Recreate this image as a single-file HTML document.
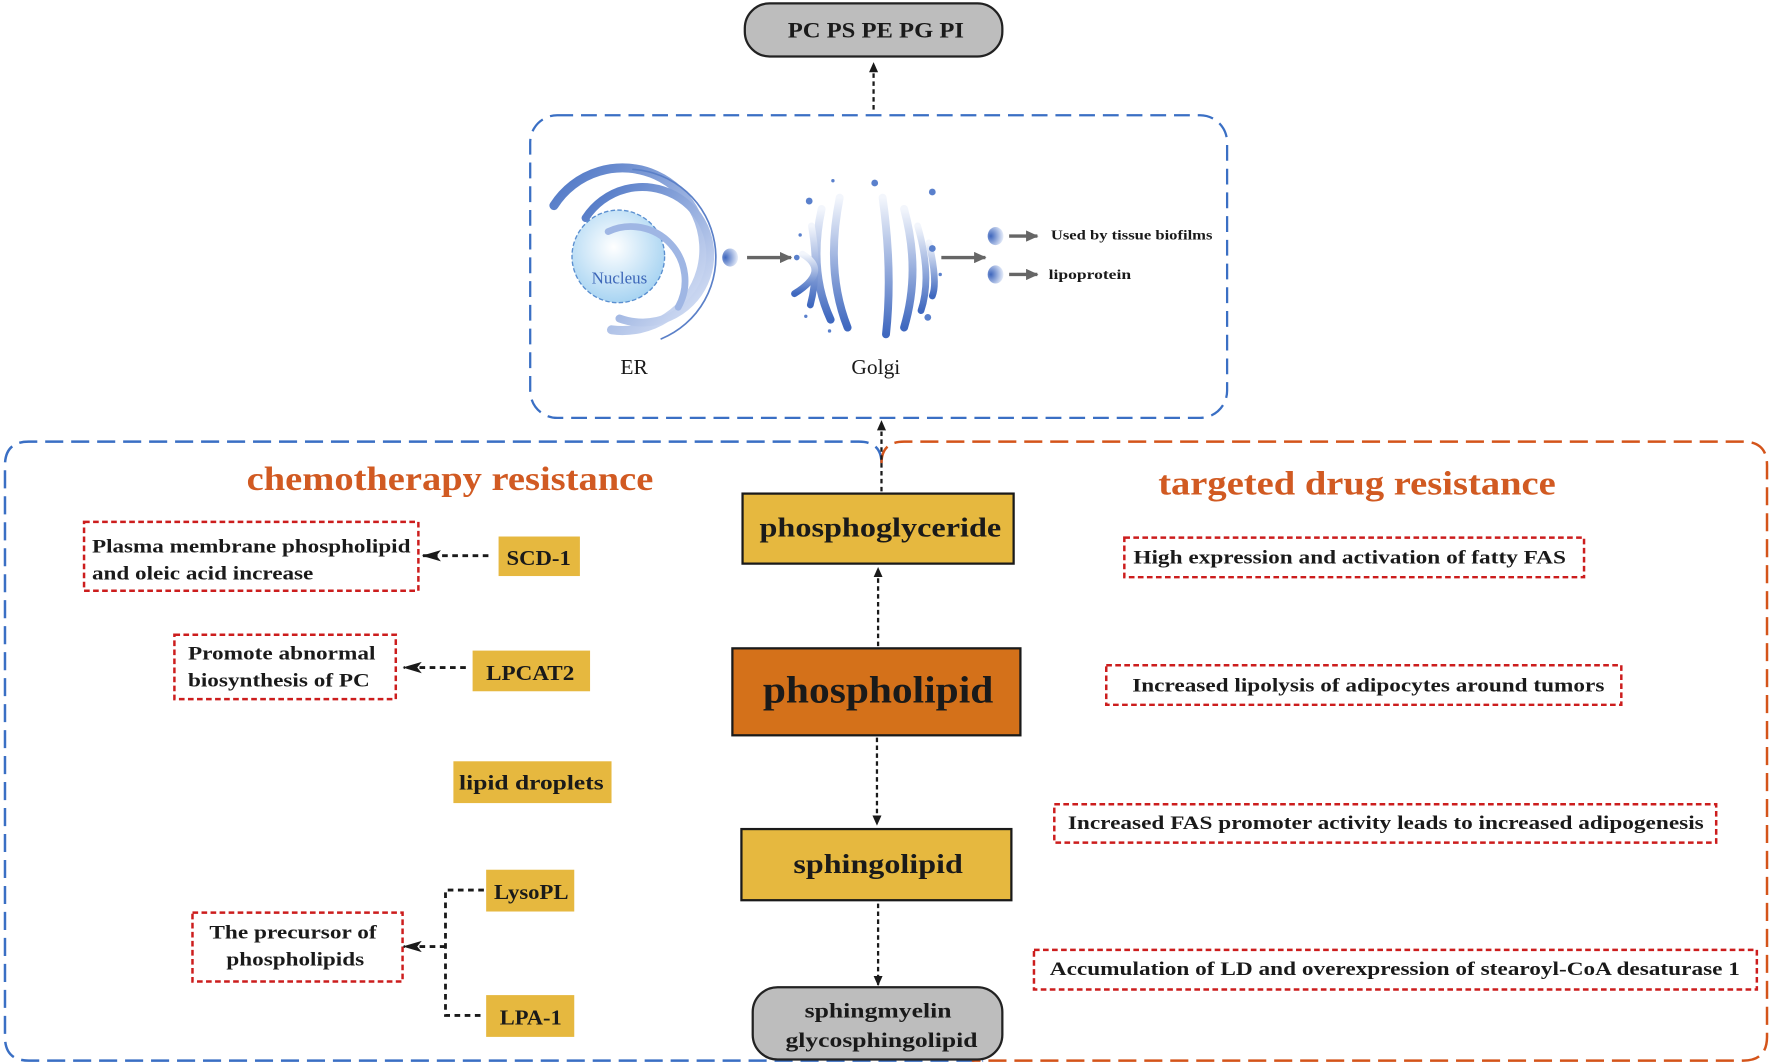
<!DOCTYPE html>
<html><head><meta charset="utf-8"><style>
html,body{margin:0;padding:0;background:#fff;}
svg{display:block;}
text{font-family:"Liberation Serif",serif;font-weight:bold;fill:#1a1a1a;}
</style></head><body>
<svg width="1772" height="1064" viewBox="0 0 1568 942" xmlns="http://www.w3.org/2000/svg">
<defs>
<marker id="ah" markerWidth="10" markerHeight="10" refX="8" refY="5" orient="auto" markerUnits="userSpaceOnUse"><path d="M0,1 L9,5 L0,9 z" fill="#1a1a1a"/></marker>
<marker id="ah2" markerWidth="18" markerHeight="12" refX="16" refY="6" orient="auto" markerUnits="userSpaceOnUse"><path d="M0,1 L17,6 L0,11 L4,6 z" fill="#1a1a1a"/></marker>
<marker id="ga" markerWidth="12" markerHeight="10" refX="10" refY="5" orient="auto" markerUnits="userSpaceOnUse"><path d="M0,0 L11,5 L0,10 z" fill="#666"/></marker>
<radialGradient id="nuc" cx="0.45" cy="0.4" r="0.6"><stop offset="0" stop-color="#ffffff"/><stop offset="1" stop-color="#a8d4f2"/></radialGradient>
<linearGradient id="bl" x1="0" y1="0" x2="1" y2="1"><stop offset="0" stop-color="#4a73c4"/><stop offset="1" stop-color="#dfe7f8"/></linearGradient>
<linearGradient id="gv" x1="0" y1="0" x2="0" y2="1"><stop offset="0" stop-color="#f3f6fc"/><stop offset="1" stop-color="#3f68bf"/></linearGradient>
<radialGradient id="ves" cx="0.2" cy="0.5" r="0.8"><stop offset="0" stop-color="#3e66bd"/><stop offset="1" stop-color="#e8eefa"/></radialGradient>
</defs>

<rect x="659" y="3" width="228" height="47" rx="22" fill="#bdbdbd" stroke="#222" stroke-width="2"/>
<text x="697" y="33" font-size="20" textLength="156" lengthAdjust="spacingAndGlyphs">PC PS PE PG PI</text>
<line x1="773" y1="97" x2="773" y2="56" stroke="#1a1a1a" stroke-width="2" stroke-dasharray="4,3" marker-end="url(#ah)"/>

<rect x="469" y="102" width="617" height="268" rx="24" fill="none" stroke="#3a6fc4" stroke-width="2" stroke-dasharray="14,7"/>
<!-- ER -->
<circle cx="547" cy="227" r="41" fill="url(#nuc)" stroke="#5a8fd0" stroke-width="1.2" stroke-dasharray="4,2"/>
<text x="548" y="251" font-size="15" text-anchor="middle" style="font-weight:normal;fill:#3c66b8">Nucleus</text>
<g fill="none" stroke-linecap="round">
<path d="M490,182 A72,72 0 1 1 541,292" stroke="url(#bl)" stroke-width="8"/>
<path d="M518,193 A60,60 0 1 1 548,282" stroke="url(#bl)" stroke-width="7"/>
<path d="M538,205 A48,48 0 0 1 600,272" stroke="#9fb6e4" stroke-width="6"/>
<path d="M560,150 A78,78 0 0 1 585,300" stroke="#5b80c8" stroke-width="1.5"/>
</g>
<text x="561" y="331" font-size="19" text-anchor="middle" style="font-weight:normal">ER</text>
<ellipse cx="646" cy="228" rx="7" ry="8" fill="url(#ves)"/>
<line x1="661" y1="228" x2="700" y2="228" stroke="#666" stroke-width="3" marker-end="url(#ga)"/>
<!-- Golgi -->
<g fill="none" stroke-linecap="round">
<path d="M743,175 Q730,240 750,290" stroke="url(#gv)" stroke-width="7"/>
<path d="M727,185 Q715,240 735,283" stroke="url(#gv)" stroke-width="7"/>
<path d="M718,200 Q725,240 717,270" stroke="url(#gv)" stroke-width="6"/>
<path d="M710,225 Q735,240 703,260" stroke="url(#gv)" stroke-width="6"/>
<path d="M781,175 Q790,240 784,296" stroke="url(#gv)" stroke-width="7"/>
<path d="M800,185 Q815,240 800,290" stroke="url(#gv)" stroke-width="7"/>
<path d="M812,200 Q825,245 815,275" stroke="url(#gv)" stroke-width="6"/>
<path d="M822,215 Q830,250 825,262" stroke="url(#gv)" stroke-width="6"/>
</g>
<g fill="#5a80cc"><circle cx="774" cy="162" r="3"/><circle cx="825" cy="170" r="3"/><circle cx="716" cy="178" r="3"/><circle cx="737" cy="160" r="1.5"/><circle cx="825" cy="220" r="3"/><circle cx="821" cy="281" r="3"/><circle cx="705" cy="228" r="2.5"/><circle cx="708" cy="208" r="1.5"/><circle cx="734" cy="293" r="1.5"/><circle cx="832" cy="243" r="1.5"/><circle cx="713" cy="280" r="1.5"/></g>
<text x="775" y="331" font-size="19" text-anchor="middle" style="font-weight:normal">Golgi</text>
<line x1="833" y1="228" x2="872" y2="228" stroke="#666" stroke-width="3" marker-end="url(#ga)"/>
<ellipse cx="881" cy="209" rx="7" ry="8" fill="url(#ves)"/>
<ellipse cx="881" cy="243" rx="7" ry="8" fill="url(#ves)"/>
<line x1="893" y1="209" x2="918" y2="209" stroke="#666" stroke-width="3" marker-end="url(#ga)"/>
<line x1="893" y1="243" x2="918" y2="243" stroke="#666" stroke-width="3" marker-end="url(#ga)"/>
<text x="930" y="212" font-size="12.5" textLength="143" lengthAdjust="spacingAndGlyphs">Used by tissue biofilms</text>
<text x="928" y="247" font-size="12.5" textLength="73" lengthAdjust="spacingAndGlyphs">lipoprotein</text>

<path d="M780,410 Q780,391 760,391 L25,391 Q4,391 4,412 L4,918 Q4,939 25,939 L870,939" fill="none" stroke="#3a6fc4" stroke-width="2.2" stroke-dasharray="16,7"/>
<path d="M780,410 Q780,391 800,391 L1543,391 Q1564,391 1564,412 L1564,918 Q1564,939 1543,939 L860,939" fill="none" stroke="#d4541a" stroke-width="2.2" stroke-dasharray="16,7"/>

<text x="218" y="434" font-size="30" textLength="360" lengthAdjust="spacingAndGlyphs" style="fill:#d15a22">chemotherapy resistance</text>
<text x="1025" y="438" font-size="30" textLength="352" lengthAdjust="spacingAndGlyphs" style="fill:#d15a22">targeted drug resistance</text>

<line x1="780" y1="435" x2="780" y2="373" stroke="#1a1a1a" stroke-width="2" stroke-dasharray="4,3" marker-end="url(#ah)"/>
<rect x="657" y="437" width="240" height="62" fill="#e6b83f" stroke="#1a1a1a" stroke-width="2"/>
<text x="672" y="475" font-size="24" textLength="214" lengthAdjust="spacingAndGlyphs">phosphoglyceride</text>
<line x1="777" y1="572" x2="777" y2="503" stroke="#1a1a1a" stroke-width="2" stroke-dasharray="4,3" marker-end="url(#ah)"/>
<rect x="648" y="574" width="255" height="77" fill="#d4711a" stroke="#1a1a1a" stroke-width="2"/>
<text x="675" y="622" font-size="34" textLength="204" lengthAdjust="spacingAndGlyphs">phospholipid</text>
<line x1="776" y1="653" x2="776" y2="730" stroke="#1a1a1a" stroke-width="2" stroke-dasharray="4,3" marker-end="url(#ah)"/>
<rect x="656" y="734" width="239" height="63" fill="#e6b83f" stroke="#1a1a1a" stroke-width="2"/>
<text x="702" y="773" font-size="24" textLength="150" lengthAdjust="spacingAndGlyphs">sphingolipid</text>
<line x1="777" y1="800" x2="777" y2="872" stroke="#1a1a1a" stroke-width="2" stroke-dasharray="4,3" marker-end="url(#ah)"/>
<rect x="666" y="874" width="221" height="64" rx="22" fill="#bdbdbd" stroke="#222" stroke-width="2"/>
<text x="712" y="901" font-size="19" textLength="130" lengthAdjust="spacingAndGlyphs">sphingmyelin</text>
<text x="695" y="927" font-size="19" textLength="170" lengthAdjust="spacingAndGlyphs">glycosphingolipid</text>

<g fill="none" stroke="#cc1d1d" stroke-width="2.2" stroke-dasharray="5,3">
<rect x="74" y="462" width="296" height="61"/>
<rect x="154" y="562" width="196" height="57"/>
<rect x="170" y="808" width="186" height="61"/>
<rect x="995" y="476" width="407" height="35"/>
<rect x="979" y="589" width="456" height="35"/>
<rect x="933" y="712" width="586" height="34"/>
<rect x="915" y="841" width="640" height="35"/>
</g>
<text x="81" y="489" font-size="17" textLength="282" lengthAdjust="spacingAndGlyphs">Plasma membrane phospholipid</text>
<text x="81" y="513" font-size="17" textLength="196" lengthAdjust="spacingAndGlyphs">and oleic acid increase</text>
<text x="166" y="584" font-size="17" textLength="166" lengthAdjust="spacingAndGlyphs">Promote abnormal</text>
<text x="166" y="608" font-size="17" textLength="161" lengthAdjust="spacingAndGlyphs">biosynthesis of PC</text>
<text x="185" y="831" font-size="17" textLength="148" lengthAdjust="spacingAndGlyphs">The precursor of</text>
<text x="200" y="855" font-size="17" textLength="122" lengthAdjust="spacingAndGlyphs">phospholipids</text>

<g fill="#e6b83f">
<rect x="441" y="475" width="72" height="35"/>
<rect x="418" y="576" width="104" height="36"/>
<rect x="401" y="674" width="140" height="37"/>
<rect x="430" y="770" width="78" height="37"/>
<rect x="430" y="881" width="78" height="37"/>
</g>
<text x="448" y="500" font-size="19" textLength="57" lengthAdjust="spacingAndGlyphs">SCD-1</text>
<text x="430" y="602" font-size="19" textLength="78" lengthAdjust="spacingAndGlyphs">LPCAT2</text>
<text x="406" y="699" font-size="19" textLength="128" lengthAdjust="spacingAndGlyphs">lipid droplets</text>
<text x="437" y="796" font-size="19" textLength="66" lengthAdjust="spacingAndGlyphs">LysoPL</text>
<text x="442" y="907" font-size="19" textLength="55" lengthAdjust="spacingAndGlyphs">LPA-1</text>

<g stroke="#1a1a1a" stroke-width="2.5" stroke-dasharray="5,4" fill="none">
<line x1="432" y1="492" x2="374" y2="492" marker-end="url(#ah2)"/>
<line x1="412" y1="591" x2="357" y2="591" marker-end="url(#ah2)"/>
<polyline points="428,788 394,788 394,899 428,899"/>
<line x1="394" y1="838" x2="357" y2="838" marker-end="url(#ah2)"/>
</g>

<text x="1003" y="499" font-size="17" textLength="383" lengthAdjust="spacingAndGlyphs">High expression and activation of fatty FAS</text>
<text x="1002" y="612" font-size="17" textLength="418" lengthAdjust="spacingAndGlyphs">Increased lipolysis of adipocytes around tumors</text>
<text x="945" y="734" font-size="17" textLength="563" lengthAdjust="spacingAndGlyphs">Increased FAS promoter activity leads to increased adipogenesis</text>
<text x="929" y="863" font-size="17" textLength="611" lengthAdjust="spacingAndGlyphs">Accumulation of LD and overexpression of stearoyl-CoA desaturase 1</text>
</svg>
</body></html>
